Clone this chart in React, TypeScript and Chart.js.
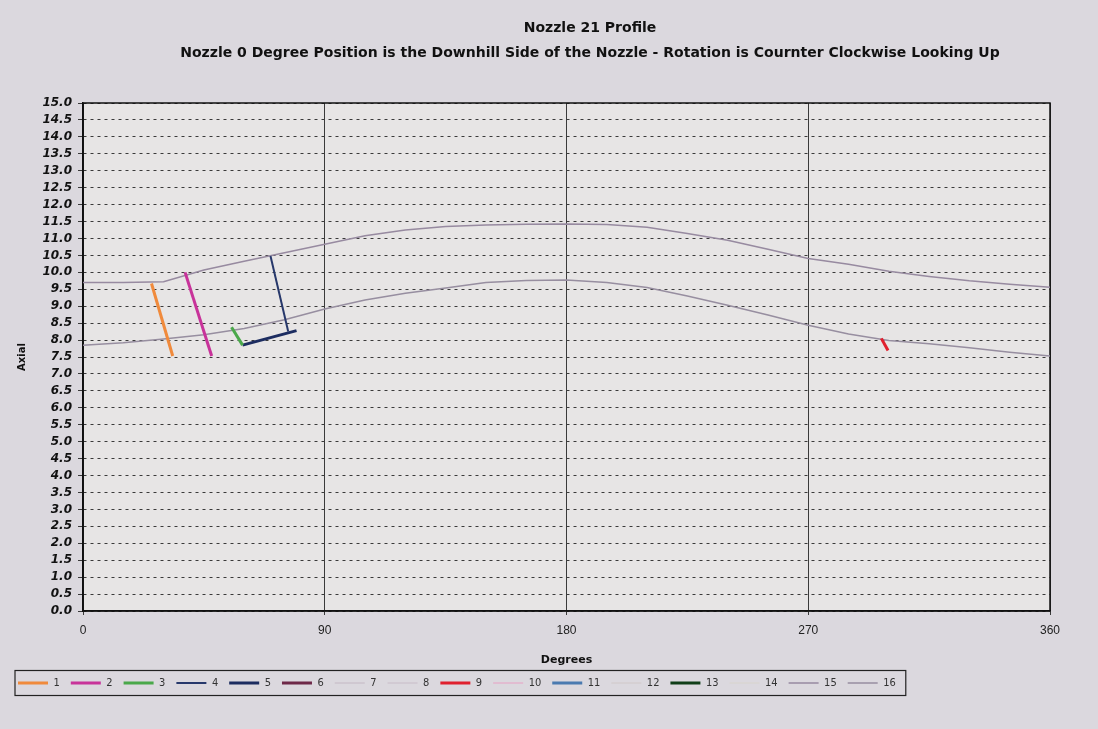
import React, { useEffect, useRef } from 'react';
import { Chart, registerables } from 'chart.js';

Chart.register(...registerables);

const titleText = 'Nozzle 21 Profile';
const subtitleText =
  'Nozzle 0 Degree Position is the Downhill Side of the Nozzle - Rotation is Cournter Clockwise Looking Up';
const xTitleText = 'Degrees';
const yTitleText = 'Axial';

const seriesNames = ['1', '2', '3', '4', '5', '6', '7', '8', '9', '10', '11', '12', '13', '14', '15', '16'];

// profile curves
const profileDegrees = [0, 15, 30, 45, 60, 75, 90, 105, 120, 135, 150, 165, 180, 195, 210, 225, 240, 255, 270, 285, 300, 315, 330, 345, 360];
const upperAxial = [9.7, 9.7, 9.72, 10.07, 10.33, 10.58, 10.83, 11.08, 11.25, 11.35, 11.4, 11.42, 11.43, 11.41, 11.33, 11.15, 10.95, 10.68, 10.41, 10.24, 10.03, 9.88, 9.75, 9.65, 9.56];
const lowerAxial = [7.85, 7.92, 8.03, 8.16, 8.34, 8.6, 8.92, 9.18, 9.38, 9.54, 9.7, 9.76, 9.77, 9.7, 9.55, 9.3, 9.03, 8.74, 8.44, 8.18, 7.99, 7.89, 7.77, 7.64, 7.53];

// measurement marks
const s1Deg = [25.5, 33.4];
const s1Axial = [9.67, 7.53];
const s2Deg = [38, 47.9];
const s2Axial = [10.0, 7.53];
const s3Deg = [55.3, 59.4];
const s3Axial = [8.38, 7.85];
const s4Deg = [69.8, 76.4];
const s4Axial = [10.48, 8.25];
const s5Deg = [59.4, 79.5];
const s5Axial = [7.85, 8.28];
const s9Deg = [297.2, 299.7];
const s9Axial = [8.05, 7.69];
const emptyDeg: number[] = [];
const emptyAxial: number[] = [];

const xTicks = [0, 90, 180, 270, 360];
const yMin = 0;
const yMax = 15;
const yStep = 0.5;

const seriesDeg = [s1Deg, s2Deg, s3Deg, s4Deg, s5Deg, emptyDeg, emptyDeg, emptyDeg, s9Deg, emptyDeg, emptyDeg, emptyDeg, emptyDeg, emptyDeg, profileDegrees, profileDegrees];
const seriesAxial = [s1Axial, s2Axial, s3Axial, s4Axial, s5Axial, emptyAxial, emptyAxial, emptyAxial, s9Axial, emptyAxial, emptyAxial, emptyAxial, emptyAxial, emptyAxial, upperAxial, lowerAxial];

const seriesColors = [
  '#f08a3c', '#c8339a', '#4aa84a', '#27386b', '#1c2c60', '#6e2848', '#c4b8c4', '#c8bcc8',
  '#e0202e', '#e8a0c4', '#4a7ab0', '#d0c8c8', '#103e18', '#d8d4cc', '#978aa0', '#978ea0',
];
const seriesWidths = [3, 3, 3, 2, 3, 3, 1, 1, 3, 1, 3, 1, 3, 1, 1.5, 1.5];

const OUTER_BG = '#dbd8de';
const PLOT_BG = '#e7e5e5';

const bgPlugin = {
  id: 'bgPlugin',
  beforeDraw(chart: any) {
    const { ctx, chartArea } = chart;
    ctx.save();
    ctx.fillStyle = OUTER_BG;
    ctx.fillRect(0, 0, chart.width, chart.height);
    ctx.fillStyle = PLOT_BG;
    ctx.fillRect(chartArea.left, chartArea.top, chartArea.right - chartArea.left, chartArea.bottom - chartArea.top);
    ctx.restore();
  },
};

const framePlugin = {
  id: 'framePlugin',
  beforeDatasetsDraw(chart: any) {
    const { ctx, chartArea } = chart;
    ctx.save();
    ctx.strokeStyle = '#111';
    ctx.lineWidth = 1.5;
    ctx.strokeRect(chartArea.left, chartArea.top, chartArea.right - chartArea.left, chartArea.bottom - chartArea.top);
    ctx.restore();
  },
};

const titlesPlugin = {
  id: 'titlesPlugin',
  afterDraw(chart: any) {
    const { ctx } = chart;
    ctx.save();
    ctx.fillStyle = '#111';
    ctx.textAlign = 'center';
    ctx.textBaseline = 'middle';
    ctx.font = 'bold 14px "DejaVu Sans", sans-serif';
    ctx.fillText(titleText, 590, 28);
    ctx.font = 'bold 14px "DejaVu Sans", sans-serif';
    ctx.fillText(subtitleText, 590, 53);
    ctx.restore();
  },
};

const legendBoxPlugin = {
  id: 'legendBoxPlugin',
  afterDraw(chart: any) {
    const legend = chart.legend;
    if (!legend || !legend.legendHitBoxes || !legend.legendHitBoxes.length) return;
    const boxes = legend.legendHitBoxes;
    let minL = Infinity, maxR = -Infinity, minT = Infinity, maxB = -Infinity;
    boxes.forEach((b: any) => {
      minL = Math.min(minL, b.left);
      maxR = Math.max(maxR, b.left + b.width);
      minT = Math.min(minT, b.top);
      maxB = Math.max(maxB, b.top + b.height);
    });
    const { ctx } = chart;
    ctx.save();
    ctx.strokeStyle = '#222';
    ctx.lineWidth = 1.2;
    ctx.strokeRect(minL - 3, minT - 7, maxR - minL + 13, maxB - minT + 14);
    ctx.restore();
  },
};

export default function App() {
  const canvasRef = useRef<HTMLCanvasElement | null>(null);

  useEffect(() => {
    if (!canvasRef.current) return;
    const datasets = seriesNames.map((name, i) => ({
      label: name,
      data: seriesDeg[i].map((d, j) => ({ x: d, y: seriesAxial[i][j] })),
      borderColor: seriesColors[i],
      backgroundColor: seriesColors[i],
      borderWidth: seriesWidths[i],
      showLine: true,
      pointRadius: 0,
      pointHoverRadius: 0,
      tension: 0,
    }));

    const chart = new Chart(canvasRef.current, {
      type: 'scatter',
      data: { datasets },
      options: {
        animation: false,
        responsive: false,
        maintainAspectRatio: false,
        layout: { padding: { left: 7, right: 48, top: 103, bottom: 30.5 } },
        plugins: {
          title: { display: false },
          tooltip: { enabled: false },
          legend: {
            display: true,
            position: 'bottom',
            align: 'start',
            labels: {
              usePointStyle: true,
              pointStyle: 'line',
              pointStyleWidth: 30,
              boxWidth: 30,
              padding: 11,
              color: '#333',
              font: { family: '"Liberation Sans Narrow", "DejaVu Sans Condensed", sans-serif', size: 11 },
            },
          },
        },
        scales: {
          x: {
            type: 'linear',
            min: 0,
            max: 360,
            afterBuildTicks(scale: any) {
              scale.ticks = xTicks.map((v) => ({ value: v }));
            },
            afterFit(scale: any) {
              scale.height = 55.5;
            },
            grid: { color: '#3a3a3a', lineWidth: 1, tickLength: 4 },
            border: { display: true, color: '#111', width: 1.5 },
            ticks: {
              padding: 8,
              color: '#222',
              font: { family: '"Liberation Sans", sans-serif', size: 12 },
              maxRotation: 0,
            },
            title: {
              display: true,
              text: xTitleText,
              color: '#111',
              padding: { top: 0, bottom: 0 },
              font: { family: '"DejaVu Sans", sans-serif', size: 11, weight: 'bold' },
            },
          },
          y: {
            type: 'linear',
            min: yMin,
            max: yMax,
            afterFit(scale: any) {
              scale.width = 76;
            },
            grid: { color: '#3a3a3a', lineWidth: 1, tickLength: 5 },
            border: { display: true, color: '#111', width: 1.5, dash: [3, 4] },
            ticks: {
              stepSize: yStep,
              autoSkip: false,
              padding: 6,
              color: '#111',
              callback: (v: any) => Number(v).toFixed(1),
              font: { family: '"DejaVu Sans", sans-serif', size: 12, weight: 'bold', style: 'italic' },
            },
            title: {
              display: true,
              text: yTitleText,
              color: '#111',
              padding: { top: 9, bottom: 0 },
              font: { family: '"DejaVu Sans", sans-serif', size: 10, weight: 'bold' },
            },
          },
        },
      },
      plugins: [bgPlugin, framePlugin, titlesPlugin, legendBoxPlugin],
    } as any);

    return () => {
      chart.destroy();
    };
  }, []);

  return (
    <div style={{ position: 'absolute', left: 0, top: 0, width: 1098, height: 729 }}>
      <canvas ref={canvasRef} width={1098} height={729} style={{ display: 'block' }} />
    </div>
  );
}
